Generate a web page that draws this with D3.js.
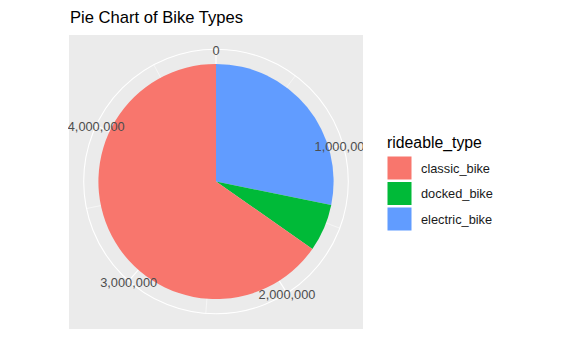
<!DOCTYPE html>
<html>
<head>
<meta charset="utf-8">
<script src="https://cdn.jsdelivr.net/npm/d3@7"></script>
<style>
  html, body { margin: 0; padding: 0; background: #ffffff; }
  svg { display: block; font-family: "Liberation Sans", Arial, sans-serif; }
</style>
</head>
<body>
<svg id="chart" width="564" height="348"></svg>
<script>
// ---- data ----
const categories = ["classic_bike", "docked_bike", "electric_bike"];
const counts = [3186000, 318000, 1376000];
const colors = ["#F8766D", "#00BA38", "#619CFF"];
const majorBreaks = [0, 1000000, 2000000, 3000000, 4000000];
const tickLabels = ["0", "1,000,000", "2,000,000", "3,000,000", "4,000,000"];
const minorBreaks = [500000, 1500000, 2500000, 3500000, 4500000];
const chartTitle = "Pie Chart of Bike Types";
const legendTitle = "rideable_type";

// ---- layout ----
const svg = d3.select("#chart");
const panel = { x: 69, y: 35, size: 294 };
const cx = panel.x + panel.size / 2;
const cy = panel.y + panel.size / 2 - 0.5;
const total = d3.sum(counts);

const theta = d3.scaleLinear().domain([0, total]).range([0, 2 * Math.PI]);
const rScale = d3.scaleLinear().domain([0.5, 1.5]).range([0, 0.4 * panel.size]);
const rOuter = 0.45 * panel.size;

svg.append("defs").append("clipPath").attr("id", "panelClip")
  .append("rect").attr("x", panel.x - 1).attr("y", panel.y)
  .attr("width", panel.size + 1).attr("height", panel.size);

// panel background
svg.append("rect").attr("x", panel.x).attr("y", panel.y)
  .attr("width", panel.size).attr("height", panel.size).attr("fill", "#EBEBEB");

const g = svg.append("g").attr("transform", `translate(${cx},${cy})`);

// theta grid lines (major + minor)
g.selectAll("line.major").data(majorBreaks).enter().append("line")
  .attr("x1", 0).attr("y1", 0)
  .attr("x2", d => rOuter * Math.sin(theta(d)))
  .attr("y2", d => -rOuter * Math.cos(theta(d)))
  .attr("stroke", "#ffffff").attr("stroke-width", 1.07);
g.selectAll("line.minor").data(minorBreaks).enter().append("line")
  .attr("x1", 0).attr("y1", 0)
  .attr("x2", d => rOuter * Math.sin(theta(d)))
  .attr("y2", d => -rOuter * Math.cos(theta(d)))
  .attr("stroke", "#ffffff").attr("stroke-width", 0.53);

// radial circles
[rScale(1), rOuter].forEach(r => {
  g.append("circle").attr("r", r).attr("fill", "none")
    .attr("stroke", "#ffffff").attr("stroke-width", 1.07);
});

// stacked slices: last category at the bottom of stack (starting at 0)
const order = d3.range(categories.length).reverse();
let cum = 0;
const slices = order.map(i => {
  const s = { cat: categories[i], color: colors[i], start: cum, end: cum + counts[i] };
  cum += counts[i];
  return s;
});
const arc = d3.arc().innerRadius(rScale(0.5)).outerRadius(rScale(1.5));
g.selectAll("path.slice").data(slices).enter().append("path")
  .attr("d", d => arc({ startAngle: theta(d.start), endAngle: theta(d.end) }))
  .attr("fill", d => d.color);

// theta labels
const lab = svg.append("g").attr("clip-path", "url(#panelClip)");
lab.selectAll("text").data(majorBreaks).enter().append("text")
  .attr("x", d => cx + rOuter * Math.sin(theta(d)))
  .attr("y", d => cy - rOuter * Math.cos(theta(d)) + 1.5)
  .attr("text-anchor", "middle")
  .attr("dominant-baseline", "central")
  .attr("font-size", "12.8px")
  .attr("fill", "#4D4D4D")
  .text((d, i) => tickLabels[i]);

// title
svg.append("text").attr("x", 70).attr("y", 22.5)
  .attr("font-size", "16.6px").attr("fill", "#000")
  .text(chartTitle);

// legend
const lg = svg.append("g");
lg.append("text").attr("x", 387).attr("y", 147.5)
  .attr("font-size", "15.8px").attr("fill", "#000").text(legendTitle);
const keyH = 23, keyTop = 156.5;
categories.forEach((c, i) => {
  const y0 = keyTop + i * (keyH + 2.5);
  lg.append("rect").attr("x", 387.5).attr("y", y0)
    .attr("width", 24).attr("height", keyH).attr("fill", colors[i]);
  lg.append("text").attr("x", 421).attr("y", y0 + keyH / 2 + 4.5)
    .attr("font-size", "12.8px").attr("fill", "#1a1a1a").text(c);
});
</script>
</body>
</html>
